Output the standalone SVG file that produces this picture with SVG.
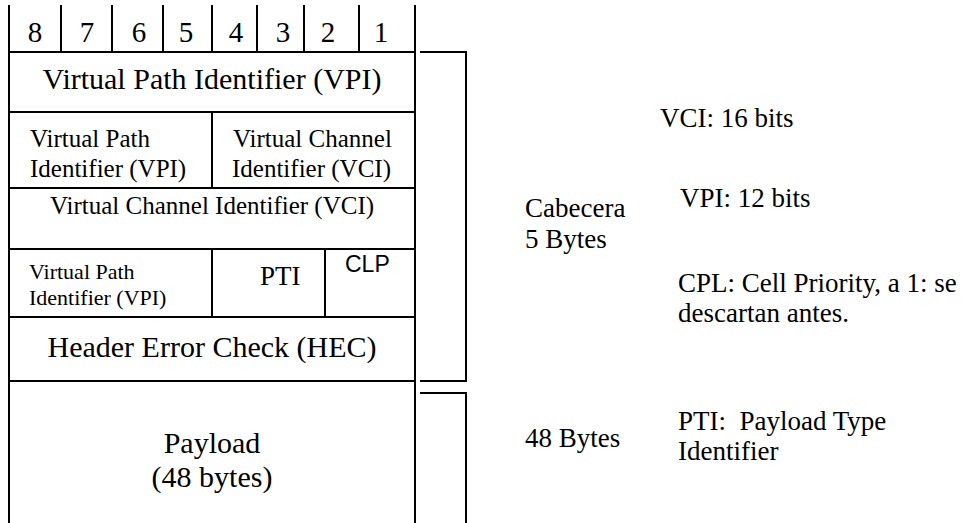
<svg xmlns="http://www.w3.org/2000/svg" width="967" height="523" viewBox="0 0 967 523">
  <style>
    .ln { stroke: #000; stroke-width: 2; fill: none; }
    .t { font-family: 'Liberation Serif', 'Times New Roman', serif; fill: #000; }
    .s { font-family: 'Liberation Sans', Arial, sans-serif; fill: #000; }
    .c { text-anchor: middle; }
    .big { font-size: 30px; }
    .dig { font-size: 29px; }
    .mid { font-size: 25px; }
    .sm { font-size: 22px; }
    .note { font-size: 27px; }
  </style>
  <rect width="967" height="523" fill="#fff"/>

  <!-- bit numbering row -->
  <g id="bits">
    <path class="ln" d="M61 5V52M112 5V52M163 5V52M212 5V52M257 5V52M304 5V52M359 5V52"/>
    <text class="t dig c" x="35" y="42">8</text>
    <text class="t dig c" x="87" y="42">7</text>
    <text class="t dig c" x="139" y="42">6</text>
    <text class="t dig c" x="186" y="42">5</text>
    <text class="t dig c" x="236" y="42">4</text>
    <text class="t dig c" x="283" y="42">3</text>
    <text class="t dig c" x="328" y="42">2</text>
    <text class="t dig c" x="381" y="42">1</text>
  </g>

  <!-- cell outline and byte rows -->
  <g id="cell">
    <path class="ln" d="M9 5V523M415 5V523"/>
    <path class="ln" d="M9 52H415M9 112H415M9 188H415M9 249H415M9 317H415M9 381H415"/>
  </g>

  <g id="row1">
    <text class="t big c" x="212" y="89">Virtual Path Identifier (VPI)</text>
  </g>

  <g id="row2">
    <path class="ln" d="M212 112V188"/>
    <text class="t mid" x="30" y="147">Virtual Path</text>
    <text class="t mid" x="30" y="177">Identifier (VPI)</text>
    <text class="t mid" x="233" y="147">Virtual Channel</text>
    <text class="t mid" x="232" y="177">Identifier (VCI)</text>
  </g>

  <g id="row3">
    <text class="t mid c" x="212" y="214">Virtual Channel Identifier (VCI)</text>
  </g>

  <g id="row4">
    <path class="ln" d="M212 249V317M325 249V317"/>
    <text class="t sm" x="29" y="279">Virtual Path</text>
    <text class="t sm" x="29" y="305">Identifier (VPI)</text>
    <text class="t note" x="260" y="285">PTI</text>
    <text class="s" font-size="23" x="345" y="272">CLP</text>
  </g>

  <g id="row5">
    <text class="t big c" x="212" y="357">Header Error Check (HEC)</text>
  </g>

  <g id="payload">
    <text class="t big c" x="212" y="453">Payload</text>
    <text class="t big c" x="212" y="487">(48 bytes)</text>
  </g>

  <!-- brackets grouping header and payload -->
  <g id="connectors">
    <path class="ln" d="M420 52H466V381H420"/>
    <path class="ln" d="M420 393H466V523"/>
  </g>

  <g id="header-label">
    <text class="t note" x="525" y="217">Cabecera</text>
    <text class="t note" x="525" y="248">5 Bytes</text>
  </g>

  <g id="payload-label">
    <text class="t note" x="525" y="447">48 Bytes</text>
  </g>

  <g id="notes">
    <text class="t note" x="660" y="127">VCI: 16 bits</text>
    <text class="t note" x="680" y="207">VPI: 12 bits</text>
    <text class="t note" x="678" y="292">CPL: Cell Priority, a 1: se</text>
    <text class="t note" x="678" y="322">descartan antes.</text>
    <text class="t note" x="678" y="430" xml:space="preserve">PTI:  Payload Type</text>
    <text class="t note" x="678" y="460">Identifier</text>
  </g>
</svg>
